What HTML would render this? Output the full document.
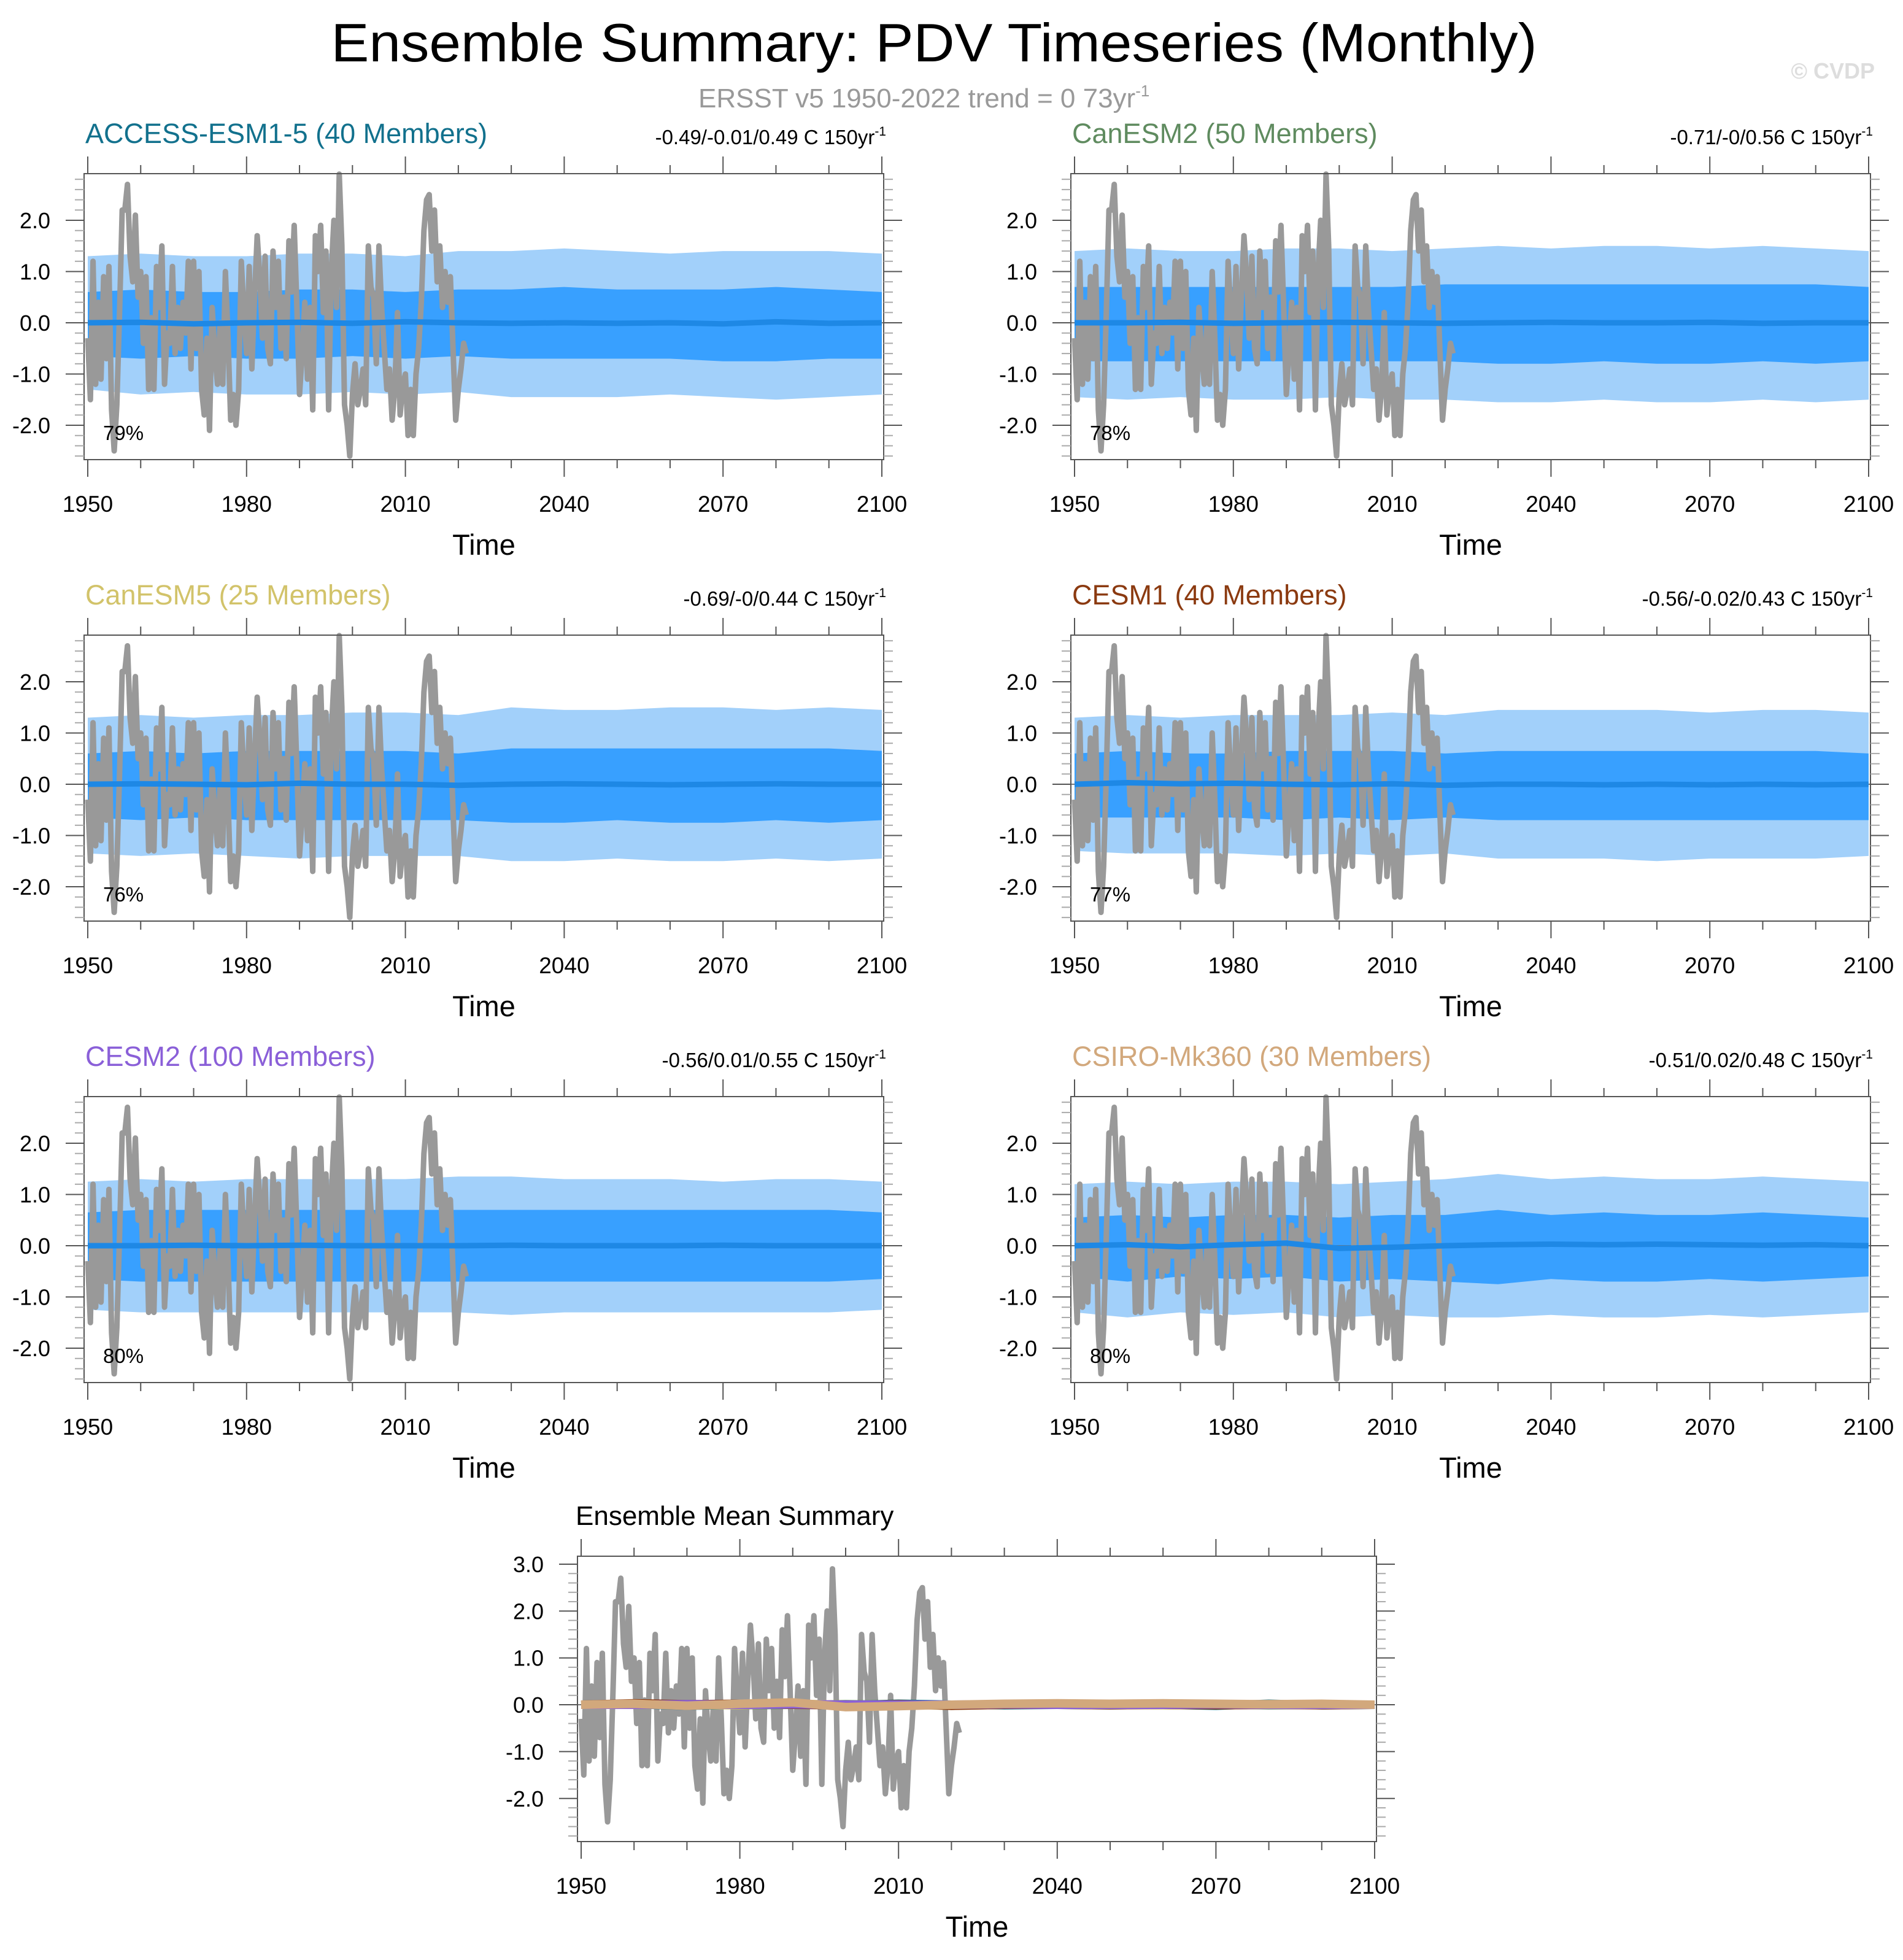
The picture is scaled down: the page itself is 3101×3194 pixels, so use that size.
<!DOCTYPE html>
<html><head><meta charset="utf-8"><style>
html,body{margin:0;padding:0;background:#fff}
svg{display:block;font-family:"Liberation Sans",sans-serif}
</style></head><body>
<svg id="fig" width="3101" height="3194" viewBox="0 0 3101 3194" xmlns="http://www.w3.org/2000/svg">
<text x="1522" y="100" font-size="88" text-anchor="middle" textLength="1965" lengthAdjust="spacingAndGlyphs">Ensemble Summary: PDV Timeseries (Monthly)</text>
<text x="1138" y="175" font-size="44" fill="#999">ERSST v5 1950-2022 trend = 0 73yr<tspan dy="-18" font-size="26">-1</tspan></text>
<text x="3055" y="128" font-size="36" font-weight="bold" fill="#ddd" text-anchor="end">© CVDP</text>
<g id="panels"></g>
</svg>
<script>
// observed PDV, half-yearly samples 1950.0 .. 2022.5
const obsStart = 1950, obsStep = 0.5;
const obsValues = [-0.3,-1.5,1.2,-1.2,0.4,-1.1,0.9,-0.7,1.1,-1.7,-2.5,-1.6,0.2,2.2,2.2,2.7,1.3,0.8,2.1,0.5,1.0,-0.4,0.9,-1.3,0.1,-1.3,1.1,0.3,1.5,-1.2,-0.2,-0.4,1.1,-0.6,0.3,-0.5,0.4,-0.2,1.2,-0.9,1.2,-0.5,1.0,-1.3,-1.8,-0.3,-2.1,0.3,-0.6,-1.2,0.0,-1.2,1.0,-0.3,-1.9,-1.4,-2.0,-1.3,1.2,0.2,-0.6,1.1,-0.9,0.5,1.7,0.9,-0.3,1.3,-0.5,-0.8,1.4,0.3,1.2,-0.5,0.5,-0.7,1.6,0.6,1.9,0.3,-1.4,-0.6,0.4,-1.1,0.3,-1.7,1.7,1.0,1.9,0.2,1.4,-1.7,1.0,2.0,0.3,2.9,1.5,-1.6,-2.0,-2.6,-1.4,-0.8,-1.6,-1.3,-0.9,-1.6,1.5,0.7,0.5,-0.8,1.5,0.3,-0.5,-1.3,-0.9,-1.9,-1.3,0.2,-1.8,-1.2,-1.0,-2.2,-1.3,-2.2,-1.0,-0.5,0.4,1.8,2.4,2.5,1.4,2.2,0.8,1.5,0.3,1.0,0.4,0.9,-0.5,-1.9,-1.3,-0.9,-0.4,-0.6];
// model bands, 10-year samples 1950..2100
const bandYears = [1950,1960,1970,1980,1990,2000,2010,2020,2030,2040,2050,2060,2070,2080,2090,2100];
const modelNames = ["ACCESS-ESM1-5 (40 Members)","CanESM2 (50 Members)","CanESM5 (25 Members)","CESM1 (40 Members)","CESM2 (100 Members)","CSIRO-Mk360 (30 Members)"];
const modelStats = ["-0.49/-0.01/0.49 C 150yr","-0.71/-0/0.56 C 150yr","-0.69/-0/0.44 C 150yr","-0.56/-0.02/0.43 C 150yr","-0.56/0.01/0.55 C 150yr","-0.51/0.02/0.48 C 150yr"];
const modelPct = ["79%","78%","76%","77%","80%","80%"];
const outerHi = [
 [1.3,1.35,1.3,1.3,1.35,1.35,1.3,1.4,1.4,1.45,1.4,1.35,1.4,1.4,1.4,1.35],
 [1.4,1.45,1.4,1.4,1.45,1.45,1.4,1.45,1.5,1.45,1.5,1.5,1.45,1.5,1.45,1.4],
 [1.3,1.35,1.3,1.35,1.35,1.4,1.4,1.35,1.5,1.45,1.45,1.5,1.5,1.45,1.5,1.45],
 [1.3,1.35,1.3,1.35,1.35,1.35,1.4,1.35,1.45,1.45,1.45,1.45,1.4,1.45,1.45,1.4],
 [1.25,1.3,1.25,1.3,1.3,1.3,1.3,1.35,1.35,1.3,1.3,1.3,1.25,1.3,1.3,1.25],
 [1.2,1.25,1.2,1.25,1.25,1.2,1.25,1.3,1.4,1.3,1.35,1.3,1.3,1.35,1.3,1.25]];
const outerLo = [
 [-1.3,-1.4,-1.35,-1.4,-1.4,-1.35,-1.4,-1.35,-1.45,-1.45,-1.45,-1.4,-1.45,-1.5,-1.45,-1.4],
 [-1.45,-1.5,-1.45,-1.5,-1.5,-1.45,-1.5,-1.5,-1.55,-1.55,-1.5,-1.55,-1.55,-1.5,-1.55,-1.5],
 [-1.35,-1.4,-1.35,-1.4,-1.45,-1.4,-1.4,-1.4,-1.5,-1.5,-1.45,-1.5,-1.5,-1.45,-1.5,-1.45],
 [-1.3,-1.35,-1.35,-1.35,-1.4,-1.35,-1.4,-1.35,-1.45,-1.45,-1.45,-1.5,-1.45,-1.45,-1.45,-1.4],
 [-1.25,-1.3,-1.3,-1.3,-1.3,-1.3,-1.3,-1.3,-1.35,-1.3,-1.3,-1.3,-1.3,-1.3,-1.3,-1.25],
 [-1.3,-1.4,-1.3,-1.35,-1.3,-1.4,-1.35,-1.4,-1.4,-1.35,-1.4,-1.4,-1.35,-1.4,-1.35,-1.3]];
const innerHi = [
 [0.6,0.65,0.6,0.6,0.65,0.65,0.6,0.65,0.65,0.7,0.65,0.65,0.65,0.7,0.65,0.6],
 [0.7,0.7,0.7,0.7,0.7,0.7,0.7,0.75,0.75,0.75,0.75,0.75,0.75,0.75,0.75,0.7],
 [0.6,0.65,0.6,0.65,0.65,0.65,0.65,0.6,0.7,0.7,0.7,0.7,0.7,0.7,0.7,0.65],
 [0.6,0.65,0.6,0.6,0.65,0.65,0.65,0.6,0.65,0.65,0.65,0.65,0.65,0.65,0.65,0.6],
 [0.65,0.7,0.7,0.7,0.7,0.7,0.7,0.7,0.7,0.7,0.7,0.7,0.7,0.7,0.7,0.65],
 [0.55,0.6,0.55,0.6,0.6,0.55,0.6,0.6,0.7,0.6,0.65,0.6,0.6,0.65,0.6,0.55]];
const innerLo = [
 [-0.65,-0.7,-0.65,-0.7,-0.7,-0.65,-0.7,-0.65,-0.7,-0.7,-0.7,-0.7,-0.75,-0.75,-0.7,-0.7],
 [-0.75,-0.75,-0.75,-0.75,-0.75,-0.75,-0.75,-0.75,-0.8,-0.8,-0.75,-0.8,-0.8,-0.75,-0.8,-0.75],
 [-0.65,-0.7,-0.65,-0.7,-0.7,-0.7,-0.7,-0.7,-0.75,-0.75,-0.7,-0.75,-0.75,-0.7,-0.75,-0.7],
 [-0.65,-0.65,-0.65,-0.65,-0.7,-0.65,-0.7,-0.65,-0.7,-0.7,-0.7,-0.7,-0.7,-0.7,-0.7,-0.7],
 [-0.65,-0.7,-0.7,-0.7,-0.7,-0.7,-0.7,-0.7,-0.7,-0.7,-0.7,-0.7,-0.7,-0.7,-0.7,-0.65],
 [-0.6,-0.7,-0.6,-0.65,-0.6,-0.7,-0.65,-0.7,-0.75,-0.65,-0.7,-0.7,-0.65,-0.7,-0.65,-0.6]];
const modelMean = [
 [0.0,0.01,-0.02,0.0,0.01,-0.01,0.02,0.0,-0.01,0.0,-0.01,0.0,-0.02,0.02,-0.01,0.0],
 [0.0,0.0,0.01,-0.01,0.0,0.01,0.0,-0.01,0.0,0.01,0.0,0.0,0.01,-0.01,0.0,0.0],
 [0.0,0.01,0.0,-0.01,0.02,0.0,0.0,-0.02,0.0,0.01,0.0,-0.01,0.0,0.01,0.0,0.0],
 [0.0,0.03,0.01,0.02,0.0,-0.01,0.01,-0.02,0.0,0.0,-0.01,0.0,-0.01,0.0,-0.01,0.0],
 [0.0,0.0,0.01,0.0,0.01,0.0,0.0,0.0,0.01,0.0,0.0,0.0,0.01,0.0,0.0,0.0],
 [0.0,0.02,-0.02,0.02,0.05,-0.05,-0.03,0.0,0.02,0.03,0.02,0.03,0.02,0.01,0.02,0.0]];
const modelColors = ["#12718d","#5f8b5f","#d2c36a","#8b3a10","#8a5fd8","#d2a87c"];

const NS="http://www.w3.org/2000/svg";
const root=document.getElementById('panels');
function mk(tag,attrs,parent){const e=document.createElementNS(NS,tag);for(const k in attrs)e.setAttribute(k,attrs[k]);(parent||root).appendChild(e);return e;}

function drawPanel(x0,y0,w,h,ymin,ymax,yTicks,idx,g){
  const x1=x0+6, x2=x0+w-3;
  const sx=y=>x1+(y-1950)/150*(x2-x1);
  const sy=v=>y0+(ymax-v)/(ymax-ymin)*h;
  mk('rect',{x:x0,y:y0,width:w,height:h,fill:'#fff'},g);
  if(idx>=0){
    const mkBand=(hi,lo,fill,name)=>{
      let d='';
      bandYears.forEach((yr,i)=>{d+=(i?'L':'M')+sx(yr).toFixed(1)+','+sy(hi[i]).toFixed(1);});
      for(let i=bandYears.length-1;i>=0;i--)d+='L'+sx(bandYears[i]).toFixed(1)+','+sy(lo[i]).toFixed(1);
      const p=mk('path',{d:d+'Z',fill:fill},g);
      
      
    };
    mkBand(outerHi[idx],outerLo[idx],'#a2d0fa','outer-spread-band');
    mkBand(innerHi[idx],innerLo[idx],'#38a0ff','inner-spread-band');
  }
  const z=mk('line',{x1:x0,x2:x0+w,y1:sy(0),y2:sy(0),stroke:'#777','stroke-width':2},g);
  
  
  let d='';
  obsValues.forEach((v,i)=>{d+=(i?'L':'M')+sx(obsStart+i*obsStep).toFixed(1)+','+sy(v).toFixed(1);});
  const ob=mk('path',{d:d,fill:'none',stroke:'#999','stroke-width':9,'stroke-linejoin':'round'},g);
  
  
  const means = idx>=0?[idx]:[0,1,2,3,4,5];
  means.forEach(m=>{
    let dm='';
    bandYears.forEach((yr,i)=>{dm+=(i?'L':'M')+sx(yr).toFixed(1)+','+sy(modelMean[m][i]).toFixed(1);});
    const ml=mk('path',{d:dm,fill:'none',stroke:idx>=0?'#1e88e5':modelColors[m],'stroke-width':idx>=0?9:14},g);
    
    
  });
  mk('rect',{x:x0,y:y0,width:w,height:h,fill:'none',stroke:'#555','stroke-width':2},g);
  for(let yr=1950;yr<=2100;yr+=10){
    const major=(yr-1950)%30===0, L=major?28:14, X=sx(yr);
    mk('line',{x1:X,x2:X,y1:y0,y2:y0-L,stroke:'#555','stroke-width':2},g);
    mk('line',{x1:X,x2:X,y1:y0+h,y2:y0+h+L,stroke:'#555','stroke-width':2},g);
    if(major){
      const t=mk('text',{x:X,y:y0+h+85,'font-size':37,'text-anchor':'middle'},g);
      t.textContent=yr;
      
      
    }
  }
  for(let k=Math.ceil(ymin*5);k<=Math.floor(ymax*5);k++){
    const v=k/5, Y=sy(v), major=k%5===0, L=major?30:15;
    const c=major?'#555':'#aaa';
    mk('line',{x1:x0,x2:x0-L,y1:Y,y2:Y,stroke:c,'stroke-width':2},g);
    mk('line',{x1:x0+w,x2:x0+w+L,y1:Y,y2:Y,stroke:c,'stroke-width':2},g);
  }
  yTicks.forEach(v=>{
    const t=mk('text',{x:x0-55,y:sy(v)+13,'font-size':36,'text-anchor':'end'},g);
    t.textContent=v.toFixed(1);
    
    
  });
  const tt=mk('text',{x:x0+w/2,y:y0+h+155,'font-size':47,'text-anchor':'middle'},g);
  tt.textContent='Time';
  
  
}

const cols=[137,1745], rows=[283,1035,1787];
for(let i=0;i<6;i++){
  const x0=cols[i%2], y0=rows[Math.floor(i/2)];
  const g=mk('g',{});
  
  
  drawPanel(x0,y0,1303,466,-2.67,2.91,[-2,-1,0,1,2],i,g);
  const t=mk('text',{x:x0+2,y:y0-50,'font-size':45,fill:modelColors[i]},g);
  t.textContent=modelNames[i];
  
  
  const s=mk('text',{x:x0+1303+4,y:y0-48,'font-size':33,'text-anchor':'end'},g);
  s.innerHTML=modelStats[i]+'<tspan dy="-14" font-size="21">-1</tspan>';
  
  
  const p=mk('text',{x:x0+31,y:y0+434,'font-size':33},g);
  p.textContent=modelPct[i];
  
  
}
const gb=mk('g',{});


drawPanel(941,2536,1302,465,-2.92,3.17,[-2,-1,0,1,2,3],-1,gb);
const bt=mk('text',{x:938,y:2485,'font-size':44},gb);
bt.textContent='Ensemble Mean Summary';


</script>
</body></html>
